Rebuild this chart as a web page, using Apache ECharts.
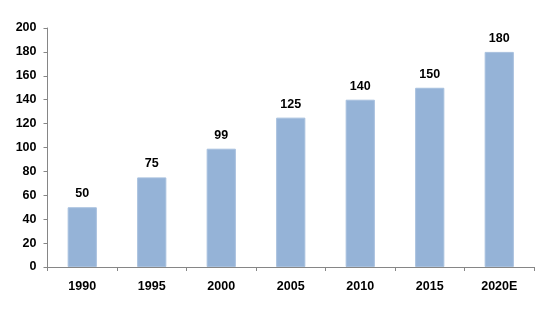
<!DOCTYPE html>
<html><head><meta charset="utf-8">
<script src="https://cdn.jsdelivr.net/npm/echarts@6/dist/echarts.min.js"></script>
<style>html,body{margin:0;padding:0;background:#fff}#c{width:545px;height:311px}</style>
</head><body><div id="c"></div>
<script>
const categories = ['1990','1995','2000','2005','2010','2015','2020E'];
const values = [50, 75, 99, 125, 140, 150, 180];
const yTicks = {min: 0, max: 200, interval: 20};
const chart = echarts.init(document.getElementById('c'), null, {renderer: 'canvas'});
const font = '"Liberation Sans", Arial, sans-serif';
chart.setOption({
  animation: false,
  backgroundColor: '#fff',
  grid: {left: 47.5, right: 11, top: 28, bottom: 44, containLabel: false},
  xAxis: {
    type: 'category', data: categories,
    axisLine: {lineStyle: {color: '#868686', width: 1}},
    axisTick: {show: true, length: 4, lineStyle: {color: '#868686'}},
    axisLabel: {color: '#000', fontSize: 12.5, fontWeight: 'bold', fontFamily: font, margin: 13}
  },
  yAxis: {
    type: 'value', min: yTicks.min, max: yTicks.max, interval: yTicks.interval,
    axisLine: {show: true, lineStyle: {color: '#868686', width: 1}},
    axisTick: {show: true, length: 4, lineStyle: {color: '#868686'}},
    splitLine: {show: false},
    axisLabel: {color: '#000', fontSize: 12.5, fontWeight: 'bold', fontFamily: font, margin: 11}
  },
  series: [{
    type: 'bar', data: values, barWidth: '42%',
    itemStyle: {color: '#95B3D7', borderColor: '#A7C0DE', borderWidth: 1},
    label: {show: true, position: 'top', distance: 7, color: '#000', fontSize: 12.5, fontWeight: 'bold', fontFamily: font}
  }]
});
</script></body></html>
